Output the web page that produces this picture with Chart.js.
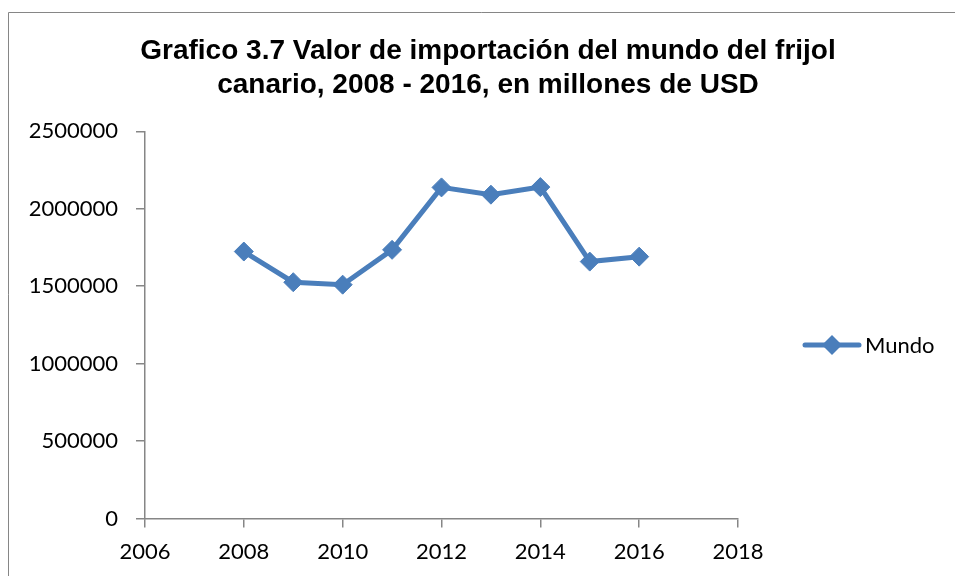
<!DOCTYPE html>
<html>
<head>
<meta charset="utf-8">
<script src="https://cdn.jsdelivr.net/npm/chart.js@4"></script>
<style>
  html, body { margin: 0; padding: 0; background: #fff; }
  #wrap { width: 955px; height: 576px; position: relative; }
</style>
</head>
<body>
<div id="wrap"><canvas id="chart"></canvas></div>
<script>
var years = [2008, 2009, 2010, 2011, 2012, 2013, 2014, 2015, 2016];
var mundo = [1724000, 1526000, 1510000, 1735000, 2138000, 2091000, 2140000, 1659000, 1691000];
var seriesName = 'Mundo';
var titleLines = ["Grafico 3.7 Valor de importación del mundo del frijol", "canario, 2008 - 2016, en millones de USD"];
var xTicks = [2006, 2008, 2010, 2012, 2014, 2016, 2018];
var yTicks = [0, 500000, 1000000, 1500000, 2000000, 2500000];

var blue = '#4a7ebb';
var axisGray = '#868686';
var tickFont = { family: 'Lato, "Open Sans", sans-serif', size: 22 };

// a layout box on the right: reserves the legend column and draws the legend
var legendBox = {
    position: 'right',
    weight: 10,
    fullSize: false,
    options: { stack: undefined, stackWeight: 1 },
    width: 0,
    height: 0,
    isHorizontal: function () { return false; },
    update: function (maxWidth, maxHeight) {
        this.width = 215;
        this.height = maxHeight;
        return { width: this.width, height: this.height };
    },
    draw: function () {
        var ctx = this.ctx;
        var area = this.chart.chartArea;
        var y = Math.round((area.top + area.bottom) / 2) + 20;
        var x0 = this.left + 67;
        ctx.save();
        ctx.strokeStyle = blue;
        ctx.lineWidth = 5;
        ctx.lineCap = 'round';
        ctx.beginPath(); ctx.moveTo(x0, y); ctx.lineTo(x0 + 54, y); ctx.stroke();
        ctx.fillStyle = blue;
        ctx.beginPath();
        ctx.moveTo(x0 + 27, y - 10); ctx.lineTo(x0 + 37, y); ctx.lineTo(x0 + 27, y + 10); ctx.lineTo(x0 + 17, y);
        ctx.closePath(); ctx.fill();
        ctx.fillStyle = '#000';
        ctx.font = tickFont.size + 'px ' + tickFont.family;
        ctx.textBaseline = 'middle';
        ctx.fillText(seriesName, x0 + 60, y + 1);
        ctx.restore();
    }
};

var legendPlugin = {
    id: 'sideLegend',
    beforeInit: function (chart) {
        legendBox.chart = chart;
        legendBox.ctx = chart.ctx;
        Chart.layouts.addBox(chart, legendBox);
    }
};

// outer frame like the spreadsheet chart border
var framePlugin = {
    id: 'frame',
    afterDraw: function (chart) {
        var ctx = chart.ctx;
        ctx.save();
        ctx.strokeStyle = axisGray;
        ctx.lineWidth = 1;
        ctx.beginPath();
        ctx.moveTo(8.5, 576);
        ctx.lineTo(8.5, 12.5);
        ctx.lineTo(955, 12.5);
        ctx.stroke();
        ctx.restore();
    }
};

var points = years.map(function (y, i) { return { x: y, y: mundo[i] }; });

new Chart(document.getElementById('chart').getContext('2d'), {
    type: 'line',
    data: {
        datasets: [{
            label: seriesName,
            data: points,
            borderColor: blue,
            backgroundColor: blue,
            borderWidth: 5,
            pointStyle: 'rectRot',
            pointRadius: 9.5,
            pointHoverRadius: 9.5,
            pointBackgroundColor: blue,
            pointBorderColor: blue,
            pointBorderWidth: 1,
            tension: 0
        }]
    },
    options: {
        responsive: true,
        maintainAspectRatio: false,
        animation: false,
        layout: { padding: { left: 23, right: 2, top: 0, bottom: 0 } },
        plugins: {
            title: {
                display: true,
                text: titleLines,
                color: '#000',
                font: { family: '"Liberation Sans", Arial, sans-serif', size: 28, weight: 'bold', lineHeight: 1.22 },
                padding: { top: 34, bottom: 29 }
            },
            legend: { display: false },
            tooltip: { enabled: false }
        },
        scales: {
            x: {
                type: 'linear',
                min: 2006,
                max: 2018,
                afterBuildTicks: function (axis) { axis.ticks = xTicks.map(function (v) { return { value: v }; }); },
                grid: { display: true, drawOnChartArea: false, drawTicks: true, tickLength: 9, color: axisGray, lineWidth: 1.5 },
                border: { display: true, color: axisGray, width: 1.5 },
                ticks: {
                    color: '#000',
                    padding: 11,
                    maxRotation: 0,
                    font: tickFont,
                    callback: function (v) { return String(v); }
                }
            },
            y: {
                min: 0,
                max: 2500000,
                afterBuildTicks: function (axis) { axis.ticks = yTicks.map(function (v) { return { value: v }; }); },
                afterFit: function (axis) { axis.width = 122; },
                grid: { display: true, drawOnChartArea: false, drawTicks: true, tickLength: 9, color: axisGray, lineWidth: 1.5 },
                border: { display: true, color: axisGray, width: 1.5 },
                ticks: {
                    color: '#000',
                    padding: 18,
                    font: tickFont,
                    callback: function (v) { return String(v); }
                }
            }
        }
    },
    plugins: [legendPlugin, framePlugin]
});
</script>
</body>
</html>
